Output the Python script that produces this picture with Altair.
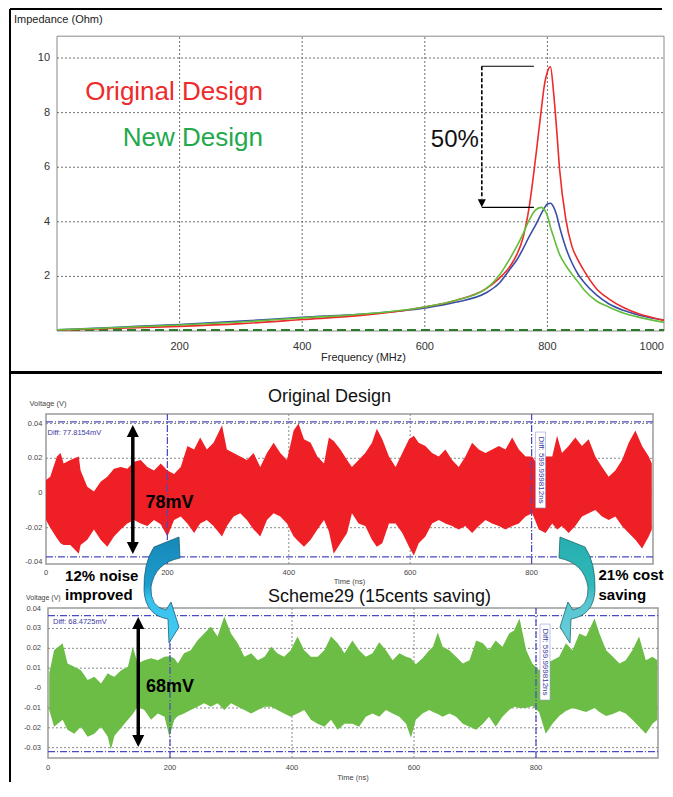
import altair as alt
import pandas as pd

FONT = "Liberation Sans"

# ---------------- Impedance vs frequency (top panel) ----------------
freq_mhz = [0, 100, 200, 300, 400, 500, 600, 650, 700, 720,
            740, 750, 760, 770, 780, 790, 795, 800, 805, 810,
            815, 820, 830, 840, 850, 860, 880, 900, 925, 950,
            975, 1000]
imp_original = [0.03, 0.10, 0.17, 0.27, 0.42, 0.58, 0.88, 1.12, 1.55, 1.90,
                2.40, 2.80, 3.40, 4.50, 6.20, 8.10, 9.00, 9.50, 9.68, 8.75,
                7.40, 5.90, 4.10, 3.10, 2.60, 2.20, 1.55, 1.18, 0.85, 0.62,
                0.47, 0.34]
imp_new = [0.04, 0.13, 0.22, 0.33, 0.48, 0.62, 0.88, 1.12, 1.55, 2.00,
           2.70, 3.10, 3.55, 4.05, 4.42, 4.53, 4.45, 4.22, 3.80, 3.45,
           3.10, 2.80, 2.40, 2.08, 1.80, 1.50, 1.10, 0.88, 0.65, 0.50,
           0.38, 0.28]
imp_third = [0.04, 0.14, 0.24, 0.36, 0.50, 0.62, 0.84, 1.05, 1.40, 1.72,
             2.30, 2.60, 3.00, 3.45, 3.85, 4.30, 4.50, 4.65, 4.68, 4.55,
             4.25, 3.80, 3.05, 2.50, 2.08, 1.78, 1.32, 1.00, 0.75, 0.58,
             0.46, 0.37]
imp_floor = [0.04, 0.04]
imp_floor_f = [0, 1000]
imp_x_ticks = [200, 400, 600, 800, 1000]
imp_x_labels = ["200", "400", "600", "800", "1000"]
imp_y_ticks = [2, 4, 6, 8, 10]
imp_y_labels = ["2", "4", "6", "8", "10"]
peak_original = 9.7
peak_new = 4.53

# ---------------- Original design noise envelope (mV) ----------------
orig_t = [0, 7, 18, 24, 29, 40, 54, 57, 68, 79,
          90, 101, 112, 123, 134, 145, 156, 167, 178, 189,
          200, 211, 222, 233, 244, 254, 265, 276, 290, 298,
          309, 320, 331, 342, 353, 364, 375, 386, 397, 408,
          416, 425, 436, 447, 458, 466, 474, 485, 496, 504,
          515, 526, 537, 545, 554, 565, 576, 587, 598, 606,
          614, 625, 636, 647, 658, 669, 680, 691, 702, 713,
          724, 735, 746, 757, 768, 779, 790, 801, 812, 823,
          834, 842, 850, 861, 872, 883, 894, 905, 916, 927,
          938, 949, 960, 971, 982, 993, 998]
orig_hi = [7.5, 9.4, 21, 23, 17, 19, 21, 13, 3.6, 0.8,
           6.5, 9.4, 14, 15, 14, 18, 19, 15, 13, 17,
           13, 11, 15, 27, 25, 32, 25, 29, 39, 25,
           23, 21, 19, 23, 15, 23, 29, 23, 19, 36,
           40, 31, 29, 21, 17, 32, 30, 25, 19, 15,
           19, 23, 29, 37, 31, 21, 15, 23, 31, 33,
           29, 27, 23, 21, 25, 19, 15, 21, 29, 25,
           23, 25, 27, 25, 32, 25, 21, 21, 15, 21,
           21, 33, 23, 27, 32, 27, 31, 21, 15, 9.4,
           13, 19, 29, 36, 27, 21, 17]
orig_lo = [-15.5, -20, -26, -29, -30, -30, -35, -30, -27, -21,
           -27, -31, -25, -21, -17.5, -15.5, -17.5, -19, -15.5, -18,
           -25, -15.5, -13.6, -17.5, -23, -17.5, -15.5, -19, -25, -19,
           -13.6, -11.7, -15.5, -21, -25, -15.5, -11.7, -13.6, -17.5, -25,
           -28, -31, -27, -21, -15.5, -22, -35, -29, -23, -11.7,
           -17.5, -19, -27, -31, -29, -17.5, -17.5, -23, -31, -36,
           -29, -25, -17.5, -15.5, -17.5, -19, -21, -19, -23, -19,
           -15.5, -17.5, -19, -21, -19, -17.5, -13.6, -11.7, -21, -23,
           -17.5, -21, -19, -23, -19, -13.6, -11.7, -9.8, -13.6, -15.5,
           -13.6, -19, -23, -27, -32, -25, -21]

# ---------------- Scheme29 noise envelope (mV) ----------------
new_t = [2, 10, 24, 32, 43, 54, 65, 76, 87, 98,
         103, 109, 120, 131, 139, 147, 158, 169, 180, 191,
         199, 207, 213, 223, 234, 245, 256, 267, 278, 289,
         300, 311, 322, 333, 344, 355, 366, 376, 387, 398,
         409, 420, 431, 442, 453, 464, 475, 486, 499, 510,
         521, 532, 543, 554, 565, 576, 587, 595, 603, 614,
         625, 631, 639, 647, 658, 669, 680, 691, 702, 713,
         723, 734, 745, 756, 764, 773, 784, 794, 805, 816,
         827, 838, 849, 860, 871, 882, 896, 904, 915, 926,
         937, 947, 958, 969, 980, 991, 999]
new_hi = [7.4, 19, 22.5, 12.4, 10.7, 9, 4, 5.7, 2.3, 7.4,
          6.5, 5.7, 9, 10.7, 20.8, 12.4, 14, 15, 14, 15.8,
          16, 15, 12.4, 17.5, 19, 24, 27.5, 31, 26, 36,
          27.5, 22.5, 15.8, 17.5, 14, 15.8, 20.8, 17.5, 15.8, 19,
          26, 19, 15.8, 15.8, 19, 26, 22.5, 17.5, 24, 19,
          15.8, 17.5, 23, 19, 14, 17.5, 15.8, 15, 12, 15,
          19, 20.8, 28, 20.8, 19, 15.8, 12.4, 14, 24, 22.5,
          19, 24, 20.8, 27.5, 29, 35, 19, 12.4, 9, 12.4,
          14, 15.8, 22.5, 19, 27.5, 26, 35, 27.5, 19, 15.8,
          12.4, 14, 19, 26, 14, 15.8, 14]
new_lo = [-11, -19.5, -16, -21, -23, -19.5, -24.5, -23, -19.5, -24.5,
          -31, -24, -20, -16, -13, -9.4, -11, -16, -12.8, -14.4,
          -24.5, -16, -14, -12.8, -11, -9.4, -7.7, -9.4, -7.7, -11,
          -7.7, -9.4, -11, -12.8, -11, -9.4, -9.4, -11, -12.8, -14.4,
          -12.8, -11, -16, -18, -19.5, -16, -21, -18, -18, -19.5,
          -14.4, -12.8, -14.4, -11, -12.8, -14.4, -18, -25, -16, -12.8,
          -11, -12, -13, -14.4, -12.8, -14.4, -18, -19.5, -21, -18,
          -14.4, -19.5, -14.4, -11, -9.4, -10, -10, -9, -12, -23,
          -18, -14, -11.5, -10, -11, -12, -10, -12, -14, -13,
          -11.5, -12.8, -16, -19.5, -23, -18, -16]

t_ticks = [0, 200, 400, 600, 800]
t_labels = ["0", "200", "400", "600", "800"]
v1_ticks = [-0.04, -0.02, 0, 0.02, 0.04]
v1_labels = ["-0.04", "-0.02", "0", "0.02", "0.04"]
v2_ticks = [-0.03, -0.02, -0.01, 0, 0.01, 0.02, 0.03, 0.04]
v2_labels = ["-0.03", "-0.02", "-0.01", "-0", "0.01", "0.02", "0.03", "0.04"]
cursor_t = [200, 800]
cursor1_v = [0.0410, -0.0368]
cursor2_v = [0.0365, -0.0320]

# ---------------- helpers ----------------
one = pd.DataFrame({"a": [0]})


def frame_rule(**enc):
    sw = enc.pop("sw", 2)
    return alt.Chart(one).mark_rule(color="black", strokeWidth=sw).encode(**enc)


def txt(df, scx, scy, **mk):
    return alt.Chart(df).mark_text(font=FONT, **mk).encode(
        x=alt.X("x:Q", scale=scx, axis=None),
        y=alt.Y("y:Q", scale=scy, axis=None),
        text="s:N")


def labels(xs, ys, ss, scx, scy, **mk):
    return txt(pd.DataFrame({"x": xs, "y": ys, "s": ss}), scx, scy, **mk)


def hrules(vals, x0, x1, scx, scy, **mk):
    d = pd.DataFrame({"y": vals, "a": x0, "b": x1})
    return alt.Chart(d).mark_rule(**mk).encode(
        y=alt.Y("y:Q", scale=scy, axis=None),
        x=alt.X("a:Q", scale=scx, axis=None), x2="b:Q")


def vrules(vals, y0, y1, scx, scy, **mk):
    d = pd.DataFrame({"x": vals, "a": y0, "b": y1})
    return alt.Chart(d).mark_rule(**mk).encode(
        x=alt.X("x:Q", scale=scx, axis=None),
        y=alt.Y("a:Q", scale=scy, axis=None), y2="b:Q")


def pts(xs, ys, scx, scy, **mk):
    d = pd.DataFrame({"x": xs, "y": ys})
    return alt.Chart(d).mark_point(**mk).encode(
        x=alt.X("x:Q", scale=scx, axis=None),
        y=alt.Y("y:Q", scale=scy, axis=None))


UP = "M0,-1L1,1L-1,1Z"
DOWN = "M0,1L1,-1L-1,-1Z"

# ================= TOP PANEL =================
F_MAX = 990.2   # right edge of the visible plot (the picture is cropped here)
sx0 = alt.Scale(domain=[0, F_MAX], range=[11, 618], nice=False, zero=False)
sy0 = alt.Scale(domain=[0, 10.8], range=[323, 28.2], nice=False, zero=False)

box0 = alt.Chart(pd.DataFrame({"x0": [0], "x1": [F_MAX], "y0": [0], "y1": [10.8]})).mark_rect(
    fill="white", stroke="#8a8a8a", strokeWidth=1).encode(
    x=alt.X("x0:Q", scale=sx0, axis=None), x2="x1:Q",
    y=alt.Y("y0:Q", scale=sy0, axis=None), y2="y1:Q")

grid0 = [
    vrules([200, 400, 600, 800], 0.0, 10.8, sx0, sy0, color="#707070", strokeDash=[2, 2], strokeWidth=1),
    hrules(imp_y_ticks, 0, F_MAX, sx0, sy0, color="#707070", strokeDash=[2, 2], strokeWidth=1),
]

n = len(freq_mhz)
curves = pd.DataFrame({
    "f": freq_mhz * 3,
    "z": imp_third + imp_original + imp_new,
    "design": ["Scheme"] * n + ["Original Design"] * n + ["New Design"] * n,
})
lines0 = alt.Chart(curves).mark_line(strokeWidth=1.6, interpolate="monotone", clip=True).encode(
    x=alt.X("f:Q", scale=sx0, axis=None),
    y=alt.Y("z:Q", scale=sy0, axis=None),
    color=alt.Color("design:N", legend=None,
                    scale=alt.Scale(domain=["Scheme", "Original Design", "New Design"],
                                    range=["#3c4fa8", "#ee2a2a", "#62bf3c"])),
    detail="design:N")

floor0 = alt.Chart(pd.DataFrame({"f": imp_floor_f, "z": imp_floor})).mark_line(
    color="#2d7a2d", strokeDash=[9, 5], strokeWidth=2, clip=True).encode(
    x=alt.X("f:Q", scale=sx0, axis=None), y=alt.Y("z:Q", scale=sy0, axis=None))

texts0 = [
    labels([336], [8.75], ["Original Design"], sx0, sy0,
           align="right", baseline="middle", fontSize=26, color="#ee2a2a"),
    labels([336], [7.07], ["New Design"], sx0, sy0,
           align="right", baseline="middle", fontSize=26, color="#22a94b"),
    labels([649], [7.0], ["50%"], sx0, sy0,
           align="center", baseline="middle", fontSize=24, color="#111111"),
    # tick labels and axis titles
    labels(imp_x_ticks[:-1], [-0.586] * 4, imp_x_labels[:-1], sx0, sy0,
           align="center", baseline="middle", fontSize=11, color="#333333"),
    labels([F_MAX], [-0.586], imp_x_labels[-1:], sx0, sy0,
           align="right", baseline="middle", fontSize=11, color="#333333"),
    labels([-11.4] * 5, imp_y_ticks, imp_y_labels, sx0, sy0,
           align="right", baseline="middle", fontSize=11, color="#333333"),
    labels([500], [-1.0], ["Frequency (MHz)"], sx0, sy0,
           align="center", baseline="middle", fontSize=11, color="#222222"),
    labels([-70.1], [11.39], ["Impedance (Ohm)"], sx0, sy0,
           align="left", baseline="middle", fontSize=11, color="#222222"),
]

bracket = [
    hrules([peak_original, peak_new], 693, 778, sx0, sy0, color="black", strokeWidth=1.2),
    vrules([693], peak_original, 4.85, sx0, sy0, color="black", strokeDash=[4, 2], strokeWidth=1.6),
    pts([693], [peak_new + 0.15], sx0, sy0, shape=DOWN, size=64, filled=True,
        color="black", opacity=1),
]

frames = [
    frame_rule(x=alt.value(-36), x2=alt.value(616), y=alt.value(1)),
    frame_rule(x=alt.value(-36), y=alt.value(1), y2=alt.value(774)),
    frame_rule(x=alt.value(-36), x2=alt.value(616), y=alt.value(364.5), sw=3),
]

top = alt.layer(box0, *grid0, floor0, lines0, *texts0, *bracket, *frames
                ).properties(width=618, height=323)

# ================= NOISE PANELS =================
sx1 = alt.Scale(domain=[0, 1000], range=[0, 607], nice=False, zero=False)
sy1 = alt.Scale(domain=[-0.0409, 0.0455], range=[233, 83], nice=False, zero=False)
sx2 = alt.Scale(domain=[0, 1000], range=[2, 612], nice=False, zero=False)
sy2 = alt.Scale(domain=[-0.0352, 0.0403], range=[194, 44], nice=False, zero=False)

CUR = dict(color="#4a4ac4", strokeDash=[7, 2, 1, 2], strokeWidth=1.2)
GRD = dict(color="#8a8a8a", strokeDash=[2, 2], strokeWidth=1)
SMALL = dict(fontSize=7.5, color="#444444", baseline="middle")


def noise_panel(ts, hi, lo, color, scx, scy, dom, grid_v, cur_v):
    box = alt.Chart(pd.DataFrame({"x0": [0], "x1": [1000], "y0": [dom[0]], "y1": [dom[1]]})).mark_rect(
        fill="white", stroke="#9a9a9a", strokeWidth=1.5).encode(
        x=alt.X("x0:Q", scale=scx, axis=None), x2="x1:Q",
        y=alt.Y("y0:Q", scale=scy, axis=None), y2="y1:Q")
    gh = hrules(grid_v, 0, 1000, scx, scy, **GRD)
    gv = vrules([200, 400, 600, 800], dom[0], dom[1], scx, scy, **GRD)
    w = pd.DataFrame({"t": ts, "hi": [v / 1000 for v in hi], "lo": [v / 1000 for v in lo]})
    area = alt.Chart(w).mark_area(color=color, interpolate="linear", opacity=1).encode(
        x=alt.X("t:Q", scale=scx, axis=None),
        y=alt.Y("hi:Q", scale=scy, axis=None), y2="lo:Q")
    ch = hrules(cur_v, 0, 1000, scx, scy, **CUR)
    cv = vrules(cursor_t, dom[0], dom[1], scx, scy, **CUR)
    return [box, gh, gv, area, ch, cv]


def diff_label(t0, t1, v0, v1, tc, vc, scx, scy):
    r = alt.Chart(pd.DataFrame({"a": [t0], "b": [t1], "c": [v0], "d": [v1]})).mark_rect(
        fill="white", stroke="#9a9ad0", strokeWidth=0.6).encode(
        x=alt.X("a:Q", scale=scx, axis=None), x2="b:Q",
        y=alt.Y("c:Q", scale=scy, axis=None), y2="d:Q")
    t = labels([tc], [vc], ["Diff: 599.999812ns"], scx, scy,
               angle=90, align="center", baseline="middle", fontSize=8, color="#3a3aa0")
    return [r, t]


def double_arrow(t, v_top, v_bot, scx, scy):
    return [
        vrules([t], v_top, v_bot, scx, scy, color="black", strokeWidth=3.5),
        pts([t], [v_top], scx, scy, shape=UP, size=144, filled=True, color="black", opacity=1),
        pts([t], [v_bot], scx, scy, shape=DOWN, size=144, filled=True, color="black", opacity=1),
    ]


def panel_axes(scx, scy, x_lab_v, x_title_v, y_lab_t, y_title_t, y_title_v, yt, yl, tsize=7.5):
    return [
        labels(t_ticks, [x_lab_v] * len(t_ticks), t_labels, scx, scy, align="center", **SMALL),
        labels([500], [x_title_v], ["Time (ns)"], scx, scy, align="center", **SMALL),
        labels([y_lab_t] * len(yt), yt, yl, scx, scy, align="right", **SMALL),
        labels([y_title_t], [y_title_v], ["Voltage (V)"], scx, scy, align="left",
               fontSize=tsize, color="#444444", baseline="middle"),
    ]


# ---- Original Design ----
p1 = noise_panel(orig_t, orig_hi, orig_lo, "#ee1f25", sx1, sy1,
                 [-0.0409, 0.0455], [0.04, 0.02, 0, -0.02], cursor1_v)
p1 += panel_axes(sx1, sy1, -0.046, -0.0512, -5.8, -27.2, 0.0512, v1_ticks, v1_labels)
p1 += [labels([2.5], [0.0345], ["Diff: 77.8154mV"], sx1, sy1,
              align="left", baseline="middle", fontSize=7.5, color="#3a3aa0")]
p1 += diff_label(806.4, 822.9, 0.0351, -0.0086, 814.7, 0.0132, sx1, sy1)
p1 += double_arrow(143, 0.0357, -0.0317, sx1, sy1)
p1 += [
    labels([164], [-0.0058], ["78mV"], sx1, sy1,
           align="left", baseline="middle", fontSize=18, fontWeight="bold", color="black"),
    labels([467], [0.0553], ["Original Design"], sx1, sy1,
           align="center", baseline="middle", fontSize=18, color="#111111"),
]
chart1 = alt.layer(*p1).properties(width=608, height=233)

# ---- Scheme29 ----
p2 = noise_panel(new_t, new_hi, new_lo, "#6cbd45", sx2, sy2,
                 [-0.0352, 0.0403], [0.03, 0.02, 0.01, -0.01, -0.02, -0.03], cursor2_v)
p2 += panel_axes(sx2, sy2, -0.0403, -0.0453, -11.5, -36.0, 0.0453, v2_ticks, v2_labels, tsize=7)
p2 += [labels([8.2], [0.0332], ["Diff: 68.4725mV"], sx2, sy2,
              align="left", baseline="middle", fontSize=7.5, color="#3a3aa0")]
p2 += diff_label(806.6, 823.0, 0.0322, -0.0060, 814.8, 0.0131, sx2, sy2)
p2 += double_arrow(148, 0.0327, -0.0267, sx2, sy2)

note_boxes = alt.Chart(pd.DataFrame({"a": [25.0, 900.0], "b": [147.5, 1008],
                                     "c": [0.0614, 0.0614], "d": [0.0418, 0.0418]})).mark_rect(
    fill="white").encode(x=alt.X("a:Q", scale=sx2, axis=None), x2="b:Q",
                         y=alt.Y("c:Q", scale=sy2, axis=None), y2="d:Q")

LEFT_ARROW = ("M-0.145,-0.791 L0.309,-0.973 L0.327,-0.591 Q-0.13,-0.5 -0.2,-0.064 "
              "Q-0.22,0.30 0.073,0.355 L0.164,0.209 L0.309,0.664 L0.127,0.955 L0.109,0.518 "
              "Q-0.30,0.45 -0.327,0.0 Q-0.34,-0.5 -0.145,-0.791 Z")
RIGHT_ARROW = ("M0.145,-0.791 L-0.309,-0.973 L-0.327,-0.591 Q0.13,-0.5 0.2,-0.064 "
               "Q0.22,0.30 -0.073,0.355 L-0.164,0.209 L-0.309,0.664 L-0.127,0.955 L-0.109,0.518 "
               "Q0.30,0.45 0.327,0.0 Q0.34,-0.5 0.145,-0.791 Z")
grad_left = alt.Gradient(gradient="linear", x1=0, x2=0, y1=0, y2=1, stops=[
    alt.GradientStop(offset=0, color="#1888b8"), alt.GradientStop(offset=0.45, color="#1c9ccd"),
    alt.GradientStop(offset=0.58, color="#36c0ec"), alt.GradientStop(offset=1, color="#46cdf3")])
grad_right = alt.Gradient(gradient="linear", x1=0, x2=0, y1=0, y2=1, stops=[
    alt.GradientStop(offset=0, color="#27aeb0"), alt.GradientStop(offset=0.45, color="#30b8b8"),
    alt.GradientStop(offset=0.6, color="#55c4d0"), alt.GradientStop(offset=1, color="#6ccfdc")])

p2 += [
    note_boxes,
    labels([28.0, 28.0, 902.5, 902.5], [0.0562, 0.0468, 0.0569, 0.0468],
           ["12% noise", "improved", "21% cost", "saving"], sx2, sy2,
           align="left", baseline="middle", fontSize=15, fontWeight="bold", color="black"),
    labels([160.7], [0.0005], ["68mV"], sx2, sy2,
           align="left", baseline="middle", fontSize=18, fontWeight="bold", color="black"),
    labels([543.4], [0.0458], ["Scheme29 (15cents saving)"], sx2, sy2,
           align="center", baseline="middle", fontSize=18, color="#111111"),
    pts([186.9], [0.0491], sx2, sy2, shape=LEFT_ARROW, size=12100, filled=True,
        fill=grad_left, stroke="#1d5f78", strokeWidth=0.8, opacity=1),
    pts([867.2], [0.0491], sx2, sy2, shape=RIGHT_ARROW, size=12100, filled=True,
        fill=grad_right, stroke="#1d6a6a", strokeWidth=0.8, opacity=1),
]
chart2 = alt.layer(*p2).properties(width=613, height=194)

chart = alt.vconcat(top, chart1, chart2, spacing=0, bounds="flush").properties(
    padding={"left": 0, "top": 0, "right": 0, "bottom": 0}, background="white"
).configure_view(strokeWidth=0)

chart.save("out.html", embed_options={"renderer": "svg", "actions": False})
